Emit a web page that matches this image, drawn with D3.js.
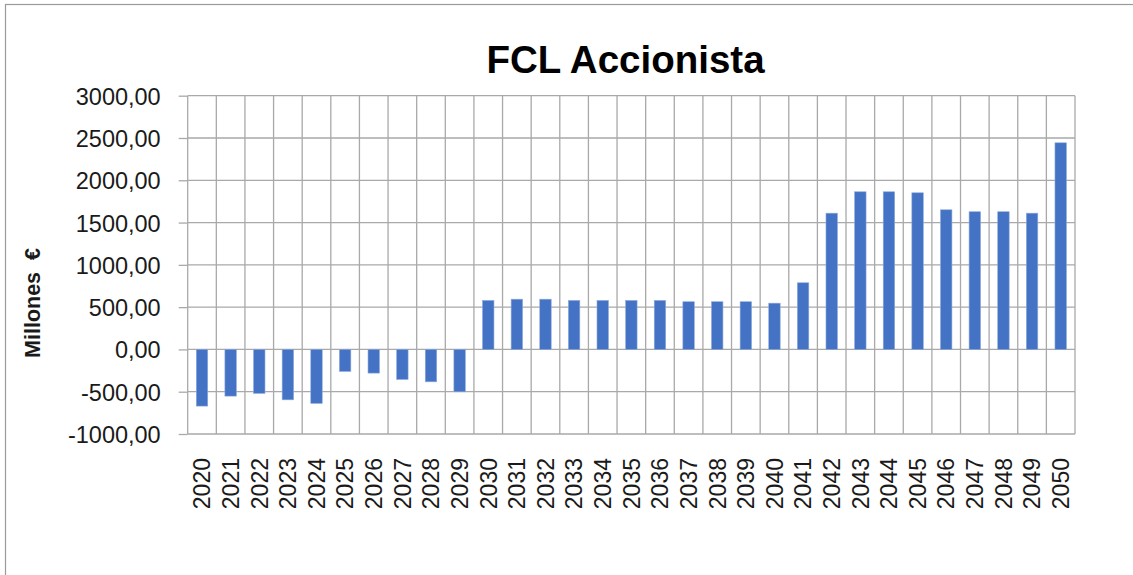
<!DOCTYPE html>
<html>
<head>
<meta charset="utf-8">
<script src="https://cdn.jsdelivr.net/npm/d3@7"></script>
<style>
  html, body { margin: 0; padding: 0; background: #fff; }
  svg { display: block; }
</style>
</head>
<body>
<svg id="chart" width="1133" height="575"></svg>
<script>
const title = "FCL Accionista";
const yTitle = "Millones  €";
const years = ["2020","2021","2022","2023","2024","2025","2026","2027","2028","2029",
               "2030","2031","2032","2033","2034","2035","2036","2037","2038","2039",
               "2040","2041","2042","2043","2044","2045","2046","2047","2048","2049","2050"];
const values = [-670,-552,-520,-596,-638,-260,-280,-355,-383,-501,
                579,594,594,579,579,579,579,564,564,564,
                547,788,1611,1864,1864,1852,1651,1628,1628,1611,2443];
const yTicks = [-1000,-500,0,500,1000,1500,2000,2500,3000];

const svg = d3.select("#chart");
const W = 1133, H = 575;
const plot = {left: 187.7, right: 1075, top: 95.7, bottom: 434};
const gridColor = "#a9a9a9";
const fontFam = "'Liberation Sans', Arial, sans-serif";

// outer chart border
svg.append("rect").attr("x", 5.5).attr("y", 4.5).attr("width", W + 20).attr("height", H + 20)
  .attr("fill", "#fff").attr("stroke", "#9a9a9a").attr("stroke-width", 1.2);

const x = d3.scaleBand().domain(years).range([plot.left, plot.right])
  .paddingInner(0.6).paddingOuter(0.3);
const y = d3.scaleLinear().domain([-1000, 3000]).range([plot.bottom, plot.top]);

// horizontal gridlines
svg.append("g").selectAll("line").data(yTicks).join("line")
  .attr("x1", plot.left).attr("x2", plot.right)
  .attr("y1", d => y(d)).attr("y2", d => y(d))
  .attr("stroke", gridColor).attr("stroke-width", 1.3);

// vertical gridlines at category boundaries
const boundaries = d3.range(years.length + 1).map(i => plot.left + i * (plot.right - plot.left) / years.length);
svg.append("g").selectAll("line").data(boundaries).join("line")
  .attr("x1", d => d).attr("x2", d => d)
  .attr("y1", plot.top).attr("y2", plot.bottom)
  .attr("stroke", gridColor).attr("stroke-width", 1.3);

// y axis
const yAxis = d3.axisLeft(y).tickValues(yTicks).tickSize(9).tickPadding(18)
  .tickFormat(d => d3.format(".2f")(d).replace(".", ",").replace("−", "-"));
const gy = svg.append("g").attr("transform", `translate(${plot.left},0)`).call(yAxis);
gy.select(".domain").remove();
gy.selectAll(".tick line").attr("stroke", gridColor).attr("stroke-width", 1.3);
gy.selectAll(".tick text").attr("font-family", fontFam).attr("font-size", 23.5)
  .attr("fill", "#1a1a1a").attr("dy", "0.36em");

// bars
svg.append("g").selectAll("rect").data(values).join("rect")
  .attr("x", (d, i) => x(years[i]))
  .attr("width", x.bandwidth())
  .attr("y", d => y(Math.max(0, d)))
  .attr("height", d => Math.abs(y(d) - y(0)))
  .attr("fill", "#4472C4")
  .attr("stroke", "#8eaadb").attr("stroke-width", 0.6);

// x labels rotated
svg.append("g").selectAll("text").data(years).join("text")
  .attr("transform", d => `translate(${x(d) + x.bandwidth() / 2 + 8.3},${plot.bottom + 24}) rotate(-90)`)
  .attr("text-anchor", "end")
  .attr("font-family", fontFam).attr("font-size", 23).attr("fill", "#1a1a1a")
  .text(d => d);

// y axis title
svg.append("text")
  .attr("transform", `translate(40,303) rotate(-90)`)
  .attr("text-anchor", "middle")
  .attr("font-family", fontFam).attr("font-weight", "bold").attr("font-size", 21.5)
  .attr("fill", "#1a1a1a")
  .style("white-space", "pre")
  .text(yTitle);

// title
svg.append("text")
  .attr("x", 625.5).attr("y", 73)
  .attr("text-anchor", "middle")
  .attr("font-family", fontFam).attr("font-weight", "bold").attr("font-size", 38.5)
  .attr("fill", "#000")
  .text(title);
</script>
</body>
</html>
